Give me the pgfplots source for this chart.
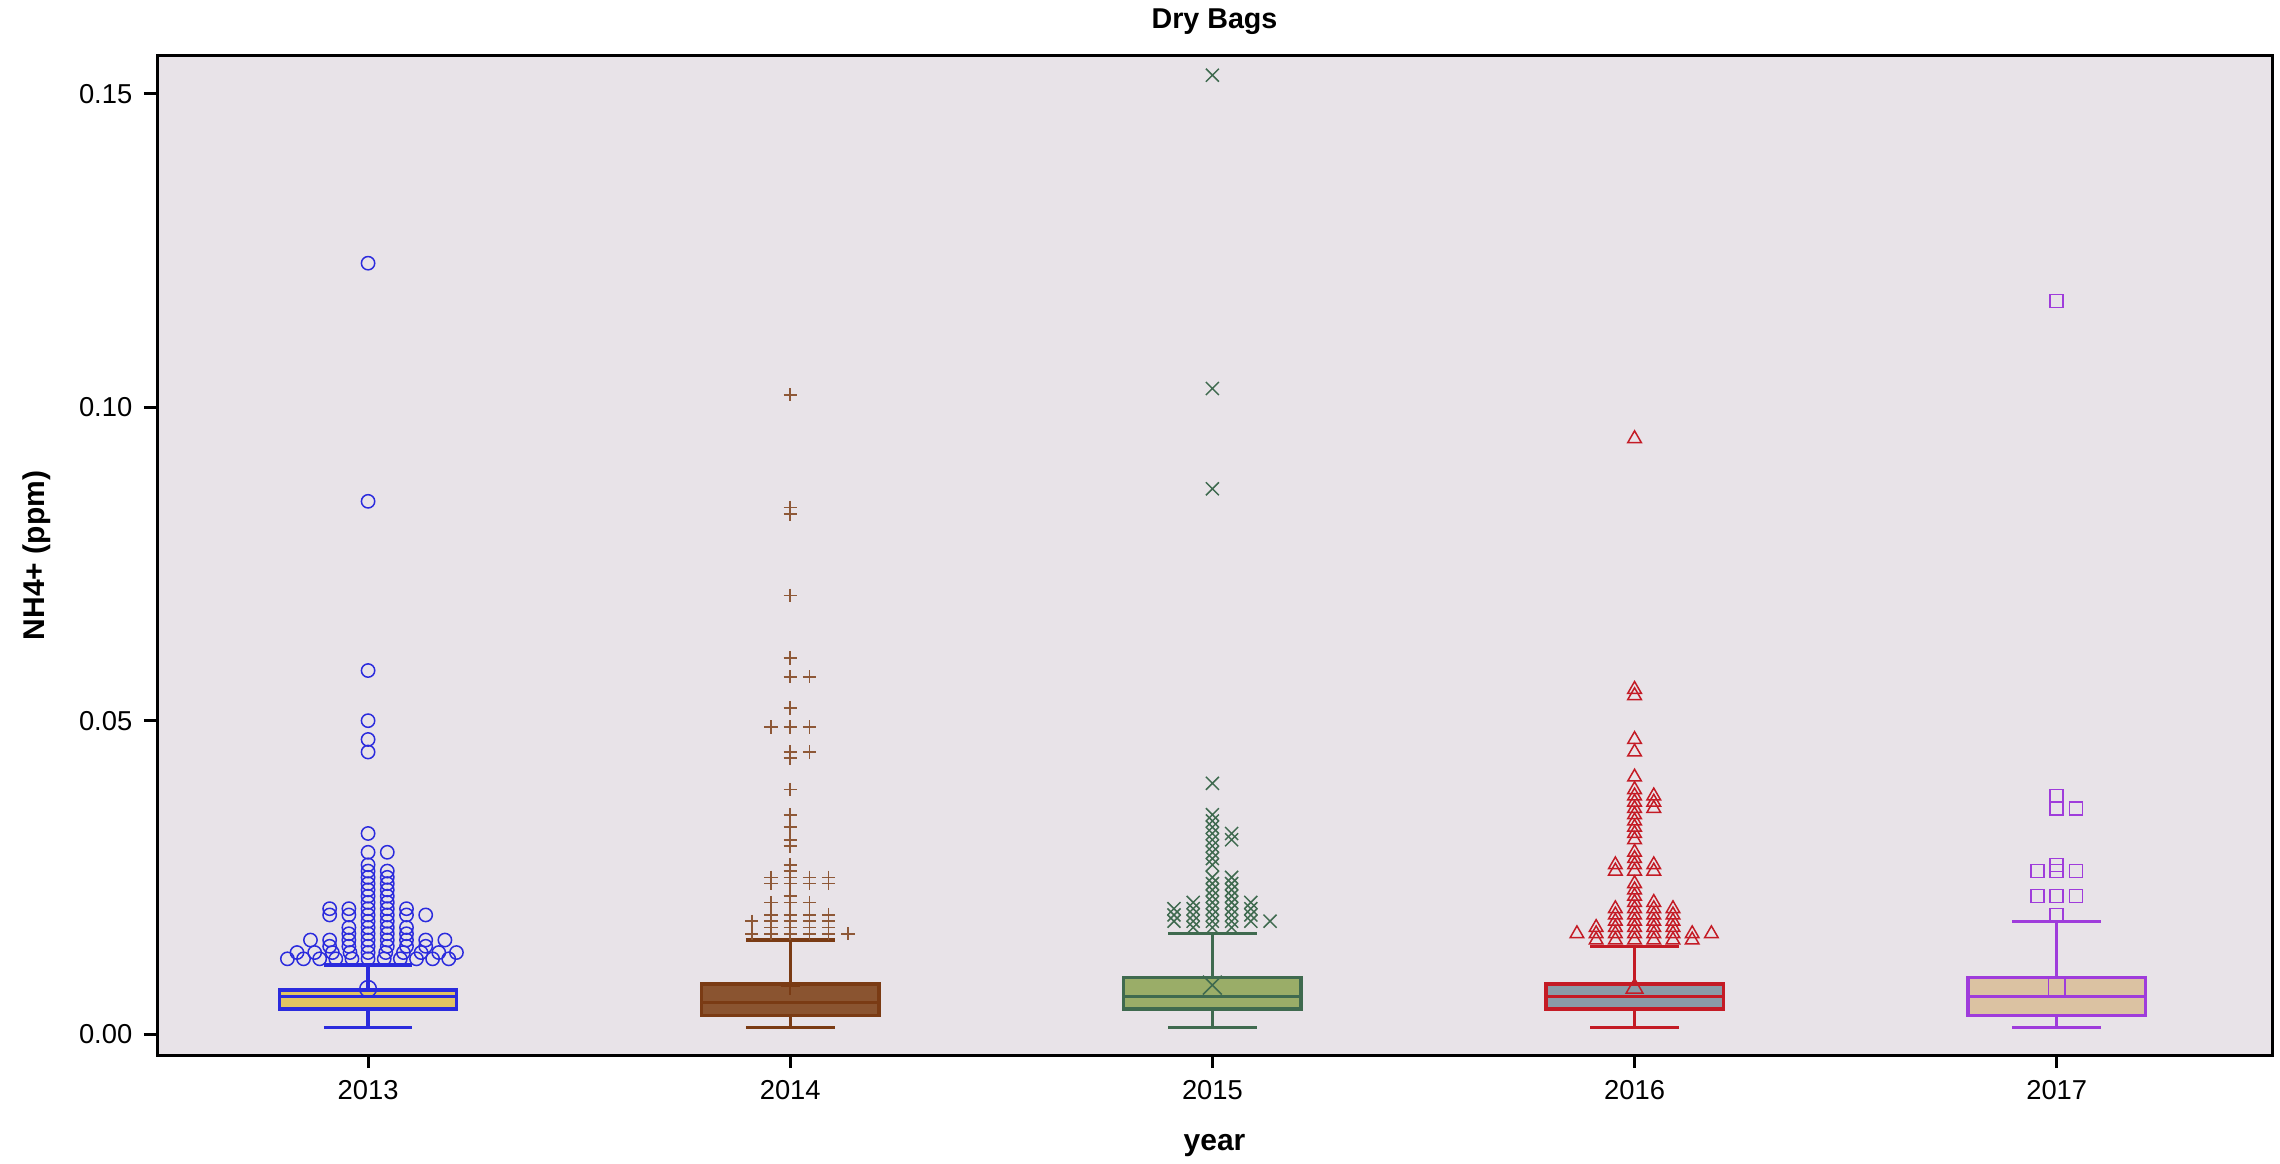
\documentclass[border=0pt]{standalone}
\usepackage{fontspec}
\setmainfont{Liberation Sans}
\usepackage{pgfplots}
\usepackage{pgfplotstable}
\pgfplotsset{compat=1.18}
\usepgfplotslibrary{statistics}
\definecolor{bgc}{HTML}{E8E3E8}
\definecolor{lA}{HTML}{2B2BDD}\definecolor{fA}{HTML}{E2C462}
\definecolor{lB}{HTML}{7A3B14}\definecolor{fB}{HTML}{8A5430}
\definecolor{lC}{HTML}{3F6A4F}\definecolor{fC}{HTML}{9AAD68}
\definecolor{lD}{HTML}{C41B25}\definecolor{fD}{HTML}{8A9CA8}
\definecolor{lE}{HTML}{9F3CDB}\definecolor{fE}{HTML}{DBC2A2}

% outliers: o = spread slot (horizontal offset), v = value
\pgfplotstableread{
o v
0 0.123
0 0.085
0 0.058
0 0.050
0 0.047
0 0.045
0 0.032
0 0.029
1 0.029
0 0.027
0 0.026
1 0.026
0 0.025
1 0.025
0 0.024
1 0.024
0 0.023
1 0.023
0 0.022
1 0.022
0 0.021
1 0.021
0 0.020
1 0.020
-1 0.020
2 0.020
-2 0.020
0 0.019
1 0.019
-1 0.019
2 0.019
-2 0.019
3 0.019
0 0.018
1 0.018
0 0.017
1 0.017
-1 0.017
2 0.017
0 0.016
1 0.016
-1 0.016
2 0.016
0 0.015
1 0.015
-1 0.015
2 0.015
-2 0.015
3 0.015
-3 0.015
4 0.015
0 0.014
1 0.014
-1 0.014
2 0.014
-2 0.014
3 0.014
-3.7 0.013
-2.78 0.013
-1.86 0.013
-0.94 0.013
0 0.013
0.92 0.013
1.84 0.013
2.76 0.013
3.68 0.013
4.6 0.013
-4.2 0.012
-3.36 0.012
-2.52 0.012
-1.68 0.012
-0.84 0.012
0 0.012
0.84 0.012
1.68 0.012
2.52 0.012
3.36 0.012
4.2 0.012
}\tA

\pgfplotstableread{
o v
0 0.102
0 0.084
0 0.083
0 0.070
0 0.060
0 0.057
1 0.057
0 0.052
0 0.049
1 0.049
-1 0.049
0 0.045
1 0.045
0 0.044
0 0.039
0 0.035
0 0.033
0 0.031
0 0.030
0 0.027
0 0.026
0 0.025
1 0.025
-1 0.025
2 0.025
0 0.024
1 0.024
-1 0.024
2 0.024
0 0.022
0 0.021
1 0.021
-1 0.021
0 0.019
1 0.019
-1 0.019
2 0.019
0 0.018
1 0.018
-1 0.018
2 0.018
-2 0.018
0 0.017
1 0.017
-1 0.017
2 0.017
0 0.016
1 0.016
-1 0.016
2 0.016
-2 0.016
3 0.016
}\tB

\pgfplotstableread{
o v
0 0.153
0 0.103
0 0.087
0 0.040
0 0.035
0 0.034
0 0.033
0 0.032
1 0.032
0 0.031
1 0.031
0 0.030
0 0.029
0 0.028
0 0.027
0 0.025
1 0.025
0 0.024
1 0.024
0 0.023
1 0.023
0 0.022
1 0.022
0 0.021
1 0.021
-1 0.021
2 0.021
0 0.020
1 0.020
-1 0.020
2 0.020
-2 0.020
0 0.019
1 0.019
-1 0.019
2 0.019
-2 0.019
0 0.018
1 0.018
-1 0.018
2 0.018
-2 0.018
3 0.018
0 0.017
1 0.017
-1 0.017
}\tC

\pgfplotstableread{
o v
0 0.095
0 0.055
0 0.054
0 0.047
0 0.045
0 0.041
0 0.039
0 0.038
1 0.038
0 0.037
1 0.037
0 0.036
1 0.036
0 0.035
0 0.034
0 0.033
0 0.032
0 0.031
0 0.029
0 0.028
0 0.027
1 0.027
-1 0.027
0 0.026
1 0.026
-1 0.026
0 0.024
0 0.023
0 0.022
0 0.021
1 0.021
0 0.020
1 0.020
-1 0.020
2 0.020
0 0.019
1 0.019
-1 0.019
2 0.019
0 0.018
1 0.018
-1 0.018
2 0.018
0 0.017
1 0.017
-1 0.017
2 0.017
-2 0.017
0 0.016
1 0.016
-1 0.016
2 0.016
-2 0.016
3 0.016
-3 0.016
4 0.016
0 0.015
1 0.015
-1 0.015
2 0.015
-2 0.015
3 0.015
}\tD

\pgfplotstableread{
o v
0 0.117
0 0.038
0 0.036
1 0.036
0 0.027
0 0.026
-1 0.026
1 0.026
0 0.022
-1 0.022
1 0.022
0 0.019
}\tE

\begin{document}
\begin{tikzpicture}
\begin{axis}[
  name=ax,
  scale only axis,
  width=634.5pt, height=299.7pt,
  xmin=-0.5, xmax=4.51,
  ymin=-0.00335, ymax=0.15606,
  axis background/.style={fill=bgc},
  axis line style={line width=0.9pt},
  xtick={0,1,2,3,4},
  xticklabels={2013,2014,2015,2016,2017},
  ytick={0,0.05,0.1,0.15},
  yticklabel style={/pgf/number format/.cd, fixed, fixed zerofill, precision=2},
  /pgf/number format/assume math mode=true,
  tick align=outside,
  xtick pos=left, ytick pos=left,
  major tick length=3.9pt,
  every tick/.style={black, line width=0.9pt},
  tick label style={font=\fontsize{8.2}{10}\selectfont},
  xticklabel style={yshift=-0.3pt},
  title={Dry Bags},
  title style={font=\fontsize{8.6}{10}\selectfont\bfseries, at={(axis description cs:0.5,1)}, anchor=base, yshift=2.2pt, inner sep=0pt},
  xlabel={year},
  xlabel style={font=\fontsize{9}{11}\selectfont\bfseries, at={(axis description cs:0.5,0)}, anchor=base, yshift=-28.5pt, inner sep=0pt},
  ylabel={NH4+ (ppm)},
  ylabel style={font=\fontsize{9}{11}\selectfont\bfseries, at={([xshift=-33.6pt]axis description cs:0,0.5)}, anchor=base, inner sep=0pt},
  boxplot/draw direction=y,
  boxplot/box extend=0.42,
  boxplot/whisker extend=0.21,
]
% boxes
\addplot[draw=lA, fill=fA, line width=1pt, boxplot prepared={draw position=0, lower whisker=0.001, lower quartile=0.004, median=0.006, upper quartile=0.007, upper whisker=0.011}] coordinates {};
\addplot[draw=lB, fill=fB, line width=1pt, boxplot prepared={draw position=1, lower whisker=0.001, lower quartile=0.003, median=0.005, upper quartile=0.008, upper whisker=0.015}] coordinates {};
\addplot[draw=lC, fill=fC, line width=1pt, boxplot prepared={draw position=2, lower whisker=0.001, lower quartile=0.004, median=0.006, upper quartile=0.009, upper whisker=0.016}] coordinates {};
\addplot[draw=lD, fill=fD, line width=1pt, boxplot prepared={draw position=3, lower whisker=0.001, lower quartile=0.004, median=0.006, upper quartile=0.008, upper whisker=0.014}] coordinates {};
\addplot[draw=lE, fill=fE, line width=1pt, boxplot prepared={draw position=4, lower whisker=0.001, lower quartile=0.003, median=0.006, upper quartile=0.009, upper whisker=0.018}] coordinates {};
% outliers
\addplot[only marks, mark=o, mark size=2pt, color=lA, mark options={line width=0.45pt}] table[x expr={0+0.0455*\thisrow{o}}, y=v] {\tA};
\addplot[only marks, mark=+, mark size=2pt, color=lB!85!white, mark options={line width=0.5pt}] table[x expr={1+0.0455*\thisrow{o}}, y=v] {\tB};
\addplot[only marks, mark=x, mark size=2.76pt, color=lC, mark options={line width=0.45pt}] table[x expr={2+0.0455*\thisrow{o}}, y=v] {\tC};
\addplot[only marks, mark=triangle, mark size=2.35pt, color=lD, mark options={line width=0.45pt}] table[x expr={3+0.0455*\thisrow{o}}, y=v] {\tD};
\addplot[only marks, mark=square, mark size=1.95pt, color=lE, mark options={line width=0.45pt}] table[x expr={4+0.0455*\thisrow{o}}, y=v] {\tE};
% means
\addplot[only marks, mark=o, mark size=2.5pt, color=lA, mark options={line width=0.45pt}] coordinates {(0,0.0072)};
\addplot[only marks, mark=+, mark size=2.85pt, color=lB, mark options={line width=0.5pt}] coordinates {(1,0.0077)};
\addplot[only marks, mark=x, mark size=4pt, color=lC, mark options={line width=0.45pt}] coordinates {(2,0.0078)};
\addplot[only marks, mark=triangle, mark size=2.9pt, color=lD, mark options={line width=0.45pt}] coordinates {(3,0.0073)};
\addplot[only marks, mark=square, mark size=2.5pt, color=lE, mark options={line width=0.45pt}] coordinates {(4,0.0075)};
\end{axis}
\path[use as bounding box] ([shift={(-47.1pt,-32.4pt)}]ax.south west) rectangle ([shift={(2.4pt,16.8pt)}]ax.north east);
\end{tikzpicture}
\end{document}
